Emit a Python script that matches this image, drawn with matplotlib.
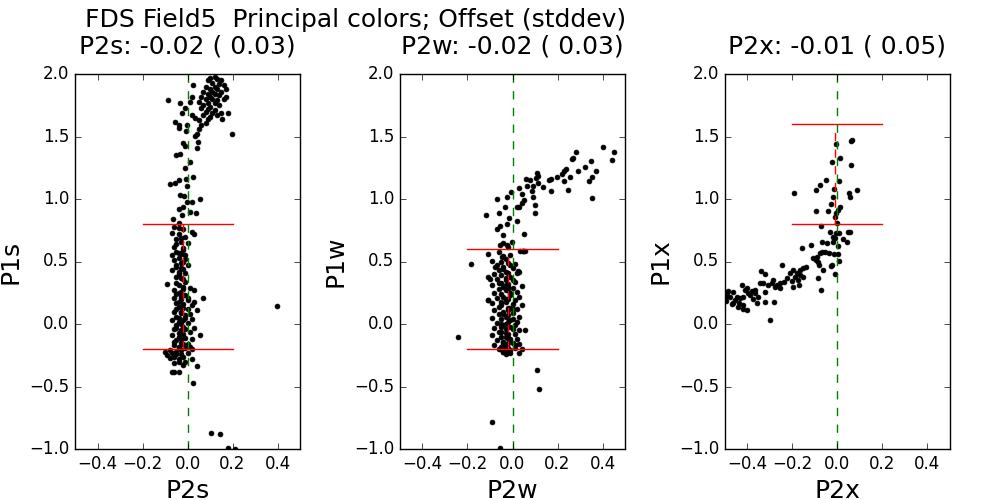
import matplotlib
matplotlib.use('Agg')
import matplotlib.pyplot as plt
import numpy as np

# panel 1: P2s vs P1s
p2s = [0.10, 0.12, 0.13, 0.09, 0.15, 0.11, 0.14, 0.16, 0.08, 0.12, 0.10, 0.13, 0.17, 0.07, 0.11,
       0.15, 0.09, 0.12, 0.14, 0.06, 0.10, 0.17, 0.08, 0.11, 0.13, 0.16, 0.05, 0.09, 0.12, 0.07,
       0.10, 0.14, 0.06, 0.09, 0.12, 0.08, 0.11, 0.15, 0.07, 0.10, 0.13, 0.09, 0.05, 0.08, 0.06,
       0.05, 0.04, -0.085, 0.199, 0.18, 0.155,
       -0.055, -0.04, -0.038, -0.008, 0.033, -0.018, -0.01, -0.05, -0.033, 0.011, -0.01, 0.026,
       -0.007, -0.04, -0.078, -0.055, -0.004, -0.033, -0.016, -0.004, 0.018, 0.056, -0.018, -0.04,
       0.038, 0.011, -0.026, -0.063, -0.038, -0.033, -0.026, 0.018, 0.023, -0.01, 0.018, 0.033,
       -0.004, 0.011, 0.048, 0.041,
       -0.06, -0.02, 0.02, -0.07, -0.04, 0.03, -0.01, -0.05, -0.03, 0.00, -0.06, -0.02, -0.05,
       -0.03, -0.07, -0.01, -0.04, -0.06, -0.02, -0.05, 0.00, -0.03, -0.07, -0.04, -0.01, -0.05,
       -0.02, -0.09, -0.04, -0.02, 0.01, -0.06, -0.03, 0.03, -0.05, -0.01, 0.07, -0.06, -0.03,
       0.00, 0.03, -0.05, -0.02, 0.02, -0.04, 0.00, 0.04, -0.06, -0.03, 0.01, -0.05, -0.01, 0.02,
       -0.07, -0.04, 0.00, -0.05, -0.02, 0.03, -0.06, -0.03, 0.01, 0.056, -0.07, -0.04, -0.01,
       0.02, -0.05, -0.03, 0.00, -0.06, -0.04, -0.01, 0.02, -0.10, -0.08, -0.07, -0.05, -0.09,
       -0.06, -0.03, 0.00, -0.04, -0.01, 0.02, 0.04, -0.02, -0.07, -0.06, -0.04, 0.026, 0.396,
       0.103, 0.144, 0.181, 0.211,
       -0.04, -0.03, -0.05, -0.02, -0.04, -0.01, -0.03, -0.05, -0.02, -0.04, -0.03, -0.01,
       -0.05, -0.02, -0.04, -0.03, 0.00, -0.04, -0.02, -0.05, -0.03, -0.01, -0.04, -0.02,
       -0.03, -0.05, -0.01, -0.04, -0.02, -0.03, -0.06, -0.02, -0.04, 0.01, -0.03, -0.05,
       -0.02, -0.04, -0.08, -0.06]
p1s = [1.97, 1.98, 1.96, 1.95, 1.95, 1.93, 1.92, 1.91, 1.90, 1.90, 1.88, 1.88, 1.88, 1.86, 1.86,
       1.86, 1.84, 1.84, 1.83, 1.82, 1.82, 1.82, 1.80, 1.80, 1.79, 1.80, 1.78, 1.77, 1.77, 1.75,
       1.74, 1.75, 1.73, 1.72, 1.71, 1.70, 1.69, 1.69, 1.67, 1.66, 1.67, 1.64, 1.63, 1.61, 1.59,
       1.56, 1.52, 1.79, 1.52, 1.69, 1.64,
       1.616, 1.59, 1.565, 1.547, 1.504, 1.445, 1.424, 1.352, 1.357, 1.299, 1.245, 1.179,
       1.157, 1.152, 1.12, 1.13, 1.104, 1.032, 1.024, 0.979, 0.979, 0.997, 0.939, 0.92,
       0.885, 0.899, 0.872, 0.837, 0.805, 1.765, 1.685, 1.819, 1.912, 1.725, 1.672, 1.645,
       1.592, 1.779, 1.459, 1.405,
       0.78, 0.76, 0.74, 0.73, 0.72, 0.72, 0.70, 0.68, 0.66, 0.65, 0.62, 0.61, 0.58,
       0.56, 0.55, 0.55, 0.53, 0.51, 0.50, 0.47, 0.47, 0.45, 0.43, 0.42, 0.41, 0.38,
       0.36, 0.32, 0.31, 0.30, 0.29, 0.27, 0.26, 0.27, 0.24, 0.23, 0.205, 0.21, 0.20,
       0.19, 0.18, 0.17, 0.16, 0.15, 0.14, 0.12, 0.11, 0.10, 0.09, 0.08, 0.06, 0.05, 0.04,
       0.03, 0.02, 0.01, -0.01, -0.02, -0.03, -0.04, -0.05, -0.06, -0.088, -0.09, -0.10, -0.11,
       -0.12, -0.13, -0.15, -0.16, -0.17, -0.19, -0.19, -0.20, -0.22, -0.21, -0.23, -0.22, -0.25,
       -0.26, -0.24, -0.23, -0.28, -0.30, -0.28, -0.336, -0.33, -0.387, -0.387, -0.387, -0.475, 0.147,
       -0.875, -0.883, -0.995, -1.003,
       0.77, 0.69, 0.64, 0.59, 0.57, 0.52, 0.49, 0.46, 0.44, 0.40, 0.37, 0.34,
       0.33, 0.28, 0.25, 0.22, 0.21, 0.18, 0.13, 0.12, 0.10, 0.07, 0.05, 0.03,
       0.00, -0.03, -0.04, -0.07, -0.08, -0.12, -0.14, -0.16, -0.18, -0.18, -0.21, -0.24,
       -0.26, -0.30, -0.27, -0.31]

# panel 2: P2w vs P1w
p2w = [0.404, 0.451, 0.444, 0.282, 0.263, 0.27, 0.349, 0.322, 0.371, 0.352, 0.342, 0.293, 0.238,
       0.229, 0.218, 0.196, 0.256, 0.229, 0.248, 0.355, 0.171, 0.161, 0.173, 0.137, 0.107, 0.115,
       0.103, 0.112, 0.093, 0.078, 0.06, 0.063, 0.085, 0.093, 0.1, 0.1, 0.03, 0.041, 0.053, 0.041,
       0.03, 0.019, -0.008, -0.067, -0.026, -0.059, -0.116, -0.033, -0.016, 0.021, -0.067, -0.056,
       -0.026, -0.041, 0.053, 0.045, 0.056, -0.056, -0.023, -0.004, -0.107, -0.183, -0.09, -0.048,
       0.026, -0.078, -0.107, -0.1, 0.041, -0.107, -0.244, 0.056, 0.11, 0.119, -0.09, -0.056,
       -0.05, -0.02, 0.01, -0.07, -0.04, 0.00, -0.06, -0.03, 0.02, -0.08, -0.05, -0.01, -0.07,
       -0.03, 0.01, -0.06, -0.02, -0.09, -0.04, 0.00, -0.06, -0.02, 0.02, -0.08, -0.05, -0.01,
       0.03, -0.07, -0.03, 0.01, -0.05, -0.09, 0.00, 0.04, -0.06, -0.02, 0.02, -0.08, -0.04,
       0.00, -0.06, -0.02, 0.03, -0.09, -0.05, -0.01, 0.02, -0.07, -0.03, 0.01, -0.05, -0.08,
       0.00, 0.03, -0.06, -0.03, 0.01, -0.09, -0.05, -0.02, 0.02, -0.07, -0.04, 0.00, 0.03,
       -0.08, -0.05, -0.02, 0.01, -0.06, -0.03, -0.01, -0.04, -0.02, 0.03, 0.04,
       0.048, 0.033, -0.041, 0.027, -0.108,
       -0.03, -0.01, -0.04, -0.02, -0.03, 0.00, -0.05, -0.02, -0.03, -0.01, -0.04, -0.02,
       -0.03, -0.05, -0.01, -0.02, -0.04, -0.03, 0.00, -0.02, -0.04, -0.01, -0.03, -0.05,
       -0.02, -0.03, -0.01, -0.04, -0.02, 0.01, -0.03, -0.05, -0.02, -0.04, -0.01, -0.03,
       -0.02, -0.04, -0.06, -0.01, -0.03, 0.00, -0.05, -0.02, -0.03, -0.04]
p1w = [1.413, 1.373, 1.312, 1.373, 1.32, 1.33, 1.301, 1.253, 1.221, 1.173, 1.141, 1.221, 1.237,
       1.221, 1.197, 1.173, 1.173, 1.141, 1.069, 1.005, 1.157, 1.149, 1.061, 1.093, 1.205, 1.187,
       1.165, 1.125, 1.104, 1.152, 1.16, 1.107, 1.067, 1.019, 0.955, 0.885, 1.085, 1.037, 0.992, 0.965,
       0.939, 0.933, 1.059, 0.997, 1.013, 0.891, 0.869, 0.939, 0.845, 0.821, 0.76, 0.787,
       0.8, 0.712, 0.72, 0.587, 0.587, 0.632, 0.632, 0.659, 0.557, 0.48, 0.507, 0.539,
       0.421, 0.453, 0.379, 0.357, 0.301, 0.192, -0.107, -0.051, -0.371, -0.523, -0.784, -0.995,
       0.50, 0.49, 0.48, 0.47, 0.46, 0.45, 0.43, 0.42, 0.41, 0.40, 0.39, 0.38, 0.36,
       0.35, 0.34, 0.33, 0.32, 0.31, 0.30, 0.29, 0.28, 0.27, 0.26, 0.25, 0.24, 0.23,
       0.22, 0.21, 0.20, 0.19, 0.18, 0.17, 0.16, 0.15, 0.14, 0.13, 0.12, 0.11, 0.10,
       0.09, 0.08, 0.07, 0.06, 0.05, 0.04, 0.03, 0.02, 0.01, 0.00, -0.01, -0.02, -0.03,
       -0.04, -0.05, -0.06, -0.07, -0.08, -0.09, -0.10, -0.11, -0.12, -0.13, -0.14, -0.15, -0.16,
       -0.17, -0.18, -0.19, -0.19, -0.20, -0.21, -0.21, -0.22, -0.20, -0.23, -0.20,
       0.587, 0.587, 0.544, 0.419, 0.19,
       0.52, 0.47, 0.44, 0.41, 0.37, 0.35, 0.33, 0.30, 0.27, 0.25, 0.22, 0.20,
       0.18, 0.15, 0.13, 0.11, 0.08, 0.06, 0.04, 0.02, -0.01, -0.02, -0.04, -0.06,
       -0.08, -0.10, -0.12, -0.14, -0.15, -0.17, -0.18, -0.20, -0.21, -0.22, -0.23, -0.19,
       0.62, 0.65, 0.58, 0.55, 0.31, 0.12, 0.00, -0.11, -0.24, -0.16]

# panel 3: P2x vs P1x
p2x = [-0.007, 0.058, 0.064, 0.013, -0.023, 0.062, -0.05, -0.076, -0.094, -0.192, 0.008, -0.016,
       -0.018, 0.053, 0.057, 0.088, -0.03, 0.011, 0.004, -0.042, -0.094, -0.007, -0.011, -0.004,
       -0.072, -0.032, -0.007, 0.008, 0.048, 0.055, -0.021, -0.011, 0.023, 0.044, -0.018, -0.07,
       -0.045, -0.116, 0.004, -0.156, -0.056, -0.067, -0.038, -0.078, -0.016, 0.004, -0.093, -0.11,
       -0.097, -0.085, 0.008, -0.03, -0.023, -0.082, -0.14, -0.152, -0.168, -0.064, -0.01, -0.085,
       -0.072,
       -0.245, -0.338, -0.324, -0.196, -0.211, -0.178, -0.167, -0.189, -0.152, -0.226, -0.174,
       -0.204, -0.238, -0.256, -0.27, -0.288, -0.293, -0.307, -0.276, -0.33, -0.344, -0.199,
       -0.171, -0.256, -0.322, -0.281, -0.321, -0.298, -0.367, -0.381, -0.396, -0.411, -0.426,
       -0.404, -0.389, -0.419, -0.433, -0.448, -0.456, -0.463, -0.437, -0.419, -0.401, -0.419,
       -0.478, -0.47, -0.49, -0.495, -0.497, -0.485, -0.466, -0.374, -0.359, -0.352, -0.441, -0.367]
p1x = [1.437, 1.464, 1.469, 1.325, 1.293, 1.269, 1.149, 1.109, 1.069, 1.045, 1.141, 1.08,
       1.019, 1.045, 1.019, 1.069, 0.957, 0.939, 0.912, 0.901, 0.901, 0.885, 0.859, 0.811,
       0.781, 0.739, 0.725, 0.725, 0.739, 0.733, 0.699, 0.685, 0.68, 0.653, 0.659, 0.653,
       0.645, 0.629, 0.624, 0.605, 0.579, 0.573, 0.571, 0.565, 0.56, 0.557, 0.539, 0.531,
       0.512, 0.499, 0.501, 0.464, 0.472, 0.472, 0.456, 0.445, 0.432, 0.429, 0.397, 0.371,
       0.272,
       0.472, 0.424, 0.4, 0.432, 0.405, 0.405, 0.392, 0.379, 0.373, 0.365, 0.352,
       0.347, 0.339, 0.331, 0.312, 0.352, 0.325, 0.312, 0.293, 0.331, 0.325, 0.299,
       0.309, 0.285, 0.253, 0.173, 0.173, 0.029, 0.272, 0.267, 0.245, 0.272, 0.309,
       0.285, 0.232, 0.219, 0.205, 0.213, 0.192, 0.171, 0.171, 0.152, 0.112, 0.117,
       0.219, 0.16, 0.245, 0.213, 0.187, 0.264, 0.259, 0.197, 0.165, 0.219, 0.139, 0.245]

xnames = ['P2s', 'P2w', 'P2x']
ynames = ['P1s', 'P1w', 'P1x']
offsets = [-0.02, -0.02, -0.01]
stddevs = [0.03, 0.03, 0.05]
cut_lo = [-0.2, -0.2, 0.8]
cut_hi = [0.8, 0.6, 1.6]
xdata = [p2s, p2w, p2x]
ydata = [p1s, p1w, p1x]

plt.style.use('classic')
fig = plt.figure(figsize=(10, 5), dpi=100, facecolor='white')
fig.subplots_adjust(left=0.075, right=0.95, top=0.852, bottom=0.102, wspace=0.444)

for i in range(3):
    ax = fig.add_subplot(1, 3, i + 1)
    ax.plot(xdata[i], ydata[i], 'k.', markersize=7)
    # cut lines and fitted offset
    ax.plot([-0.2, 0.2], [cut_lo[i], cut_lo[i]], 'r-')
    ax.plot([-0.2, 0.2], [cut_hi[i], cut_hi[i]], 'r-')
    ax.plot([offsets[i], offsets[i]], [cut_lo[i], cut_hi[i]], 'r--')
    ax.axvline(0.0, color='g', linestyle='--')
    ax.set_xlim(-0.5, 0.5)
    ax.set_ylim(-1.0, 2.0)
    ax.set_xticks([-0.4, -0.2, 0.0, 0.2, 0.4])
    ax.set_xlabel(xnames[i], fontsize=18)
    ax.set_ylabel(ynames[i], fontsize=18)
    ax.set_title('%s: %.2f ( %.2f)' % (xnames[i], offsets[i], stddevs[i]), fontsize=18, pad=15)

fig.text(0.085, 0.96, 'FDS Field5  Principal colors; Offset (stddev)', fontsize=18,
         ha='left', va='center')

fig.savefig('out.png', dpi=100, facecolor='white')
